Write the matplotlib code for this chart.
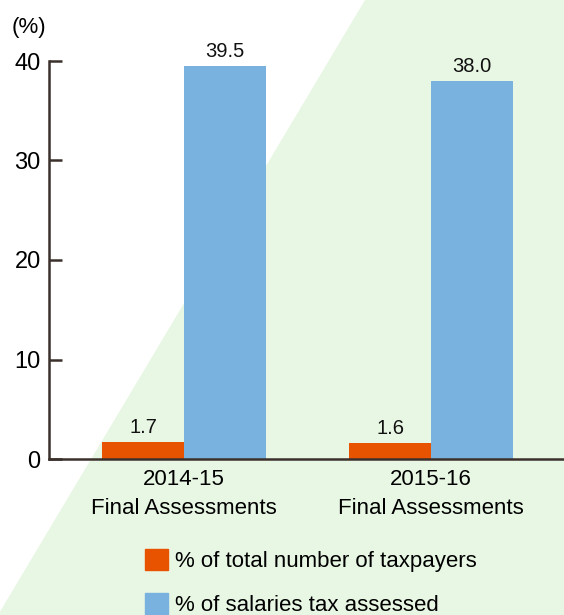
import numpy as np
import matplotlib
matplotlib.use("Agg")
import matplotlib.pyplot as plt
from matplotlib.patches import Polygon, Patch

plt.rcParams['font.family'] = ['Liberation Sans Narrow', 'Liberation Sans', 'DejaVu Sans']

# data
categories = ['2014-15\nFinal Assessments', '2015-16\nFinal Assessments']
taxpayers_pct = [1.7, 1.6]
salaries_tax_pct = [39.5, 38.0]
series_names = ['% of total number of taxpayers', '% of salaries tax assessed']
y_ticks = [0, 10, 20, 30, 40]

orange = '#E85300'
blue = '#79B2DF'
green_bg = '#E8F7E4'
dark = '#3B302C'

W, H = 564, 615
fig = plt.figure(figsize=(W / 100, H / 100), dpi=100)

# green diagonal band in the background
fig.patches.append(Polygon([(365 / W, 1), (1, 1), (1, 0), (-2 / W, 0)],
                           closed=True, transform=fig.transFigure,
                           facecolor=green_bg, edgecolor='none', zorder=-5))

ax = fig.add_axes([49 / W, 1 - 459 / H, 1 - 49 / W, (459 - 61) / H])
ax.patch.set_alpha(0)

x = np.arange(len(categories))
w = 0.332
b1 = ax.bar(x - w / 2, taxpayers_pct, w, color=orange, label=series_names[0], zorder=2)
b2 = ax.bar(x + w / 2, salaries_tax_pct, w, color=blue, label=series_names[1], zorder=2)

for bars, vals in ((b1, taxpayers_pct), (b2, salaries_tax_pct)):
    for r, v in zip(bars, vals):
        ax.text(r.get_x() + r.get_width() / 2, v + 0.5, f'{v:.1f}',
                ha='center', va='bottom', fontsize=14.5, color='#111111')

ax.set_xlim(-0.5466, 1.538)
ax.set_ylim(0, 40)
ax.set_yticks(y_ticks)
ax.set_xticks(x)
ax.set_xticklabels(categories, fontsize=16, linespacing=1.5)
ax.tick_params(axis='y', direction='in', length=9, width=1.8, color=dark,
               labelsize=17, pad=6)
ax.tick_params(axis='x', length=0, pad=7)

for s in ('top', 'right'):
    ax.spines[s].set_visible(False)
for s in ('left', 'bottom'):
    ax.spines[s].set_color(dark)
    ax.spines[s].set_linewidth(1.8)

fig.text(12 / W, 1 - 28 / H, '(%)', fontsize=16, va='center', ha='left')

handles = [Patch(color=orange), Patch(color=blue)]
fig.legend(handles, series_names, loc='upper left',
           bbox_to_anchor=(136 / W, 1 - 540 / H), frameon=False,
           fontsize=16, handlelength=1.05, handleheight=1.05,
           handletextpad=0.3, labelspacing=0.95, borderaxespad=0)

fig.savefig('out.png', dpi=100)
